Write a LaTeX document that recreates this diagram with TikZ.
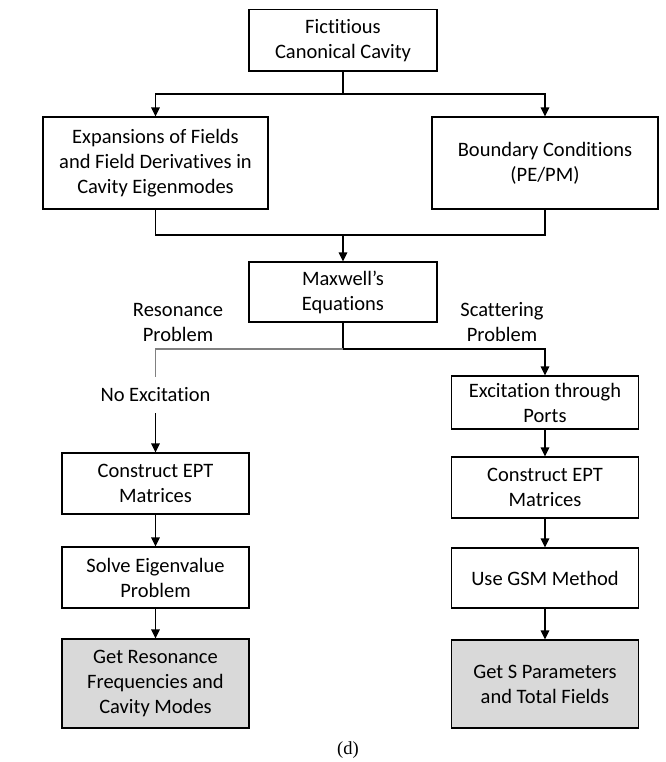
\documentclass[tikz,border=0pt]{standalone}
\usepackage{fontspec}
\setmainfont[Ligatures={NoCommon,NoContextual},RawFeature={-liga;-clig;-calt;-dlig}]{Carlito}
\newfontfamily\capfont{Liberation Serif}
\usetikzlibrary{arrows.meta}
\definecolor{boxgray}{HTML}{D9D9D9}
\definecolor{linegray}{HTML}{808080}
\begin{document}
\begin{tikzpicture}[x=1pt,y=-1pt,
  txt/.style={font=\fontsize{20.5}{25}\selectfont},
  box/.style={txt,draw=black,line width=1.3pt,inner sep=0pt,align=center},
  result/.style={box,fill=boxgray},
  lbl/.style={txt,inner sep=0pt,align=center},
  conn/.style={line width=1.5pt},
  arr/.style={conn,-{Triangle[length=9pt,width=8.5pt]}},
  grayconn/.style={line width=1.2pt,draw=linegray}]
\useasboundingbox (0,0) rectangle (665,762);

% top part
\node[box,minimum width=188pt,minimum height=61.5pt] (top) at (343,40.25) {Fictitious\\Canonical Cavity};
\node[box,minimum width=225pt,minimum height=92pt] (exp) at (155.5,163) {Expansions of Fields\\and Field Derivatives in\\Cavity Eigenmodes};
\node[box,minimum width=226pt,minimum height=92pt] (bc) at (545,163) {Boundary Conditions\\(PE/PM)};
\node[box,minimum width=188pt,minimum height=60pt] (max) at (343,292) {Maxwell’s\\Equations};

\node[lbl] (res) at (178,322.5) {Resonance\\Problem};
\node[lbl] (sca) at (502,322.5) {Scattering\\Problem};

% left branch
\node[lbl,inner ysep=11pt] (ne) at (155.5,395) {No Excitation};
\node[box,minimum width=187pt,minimum height=61pt] (lc) at (155.5,483.5) {Construct EPT\\Matrices};
\node[box,minimum width=187pt,minimum height=61pt] (ls) at (155.5,577.5) {Solve Eigenvalue\\Problem};
\node[result,minimum width=187pt,minimum height=89pt] (lg) at (155.5,683.5) {Get Resonance\\Frequencies and\\Cavity Modes};

% right branch
\node[box,minimum width=187pt,minimum height=53pt] (re) at (545,402.5) {Excitation through\\Ports};
\node[box,minimum width=187pt,minimum height=61pt] (rc) at (545,487.5) {Construct EPT\\Matrices};
\node[box,minimum width=187pt,minimum height=60pt] (rg) at (545,578) {Use GSM Method};
\node[result,minimum width=187pt,minimum height=88pt] (rs) at (545,684) {Get S Parameters\\and Total Fields};

\node[inner sep=0pt,font=\capfont\fontsize{18.5}{21}\selectfont] (cap) at (348,750) {(d)};

% connectors
\coordinate (j1) at (343,94);
\coordinate (j2) at (343,235);
\coordinate (j3) at (343,349);
\draw[conn] (top.south) -- (j1);
\draw[arr] (j1) -| (exp.north);
\draw[arr] (j1) -| (bc.north);
\draw[conn] (exp.south) |- (j2) -| (bc.south);
\draw[arr] (j2) -- (max.north);
\draw[conn] (max.south) -- (j3);
\draw[arr] (j3) -| (re.north);
\draw[grayconn] (j3) -| (ne.north);
\draw[arr] (ne.south) -- (lc.north);
\draw[arr] (lc.south) -- (ls.north);
\draw[arr] (ls.south) -- (lg.north);
\draw[arr] (re.south) -- (rc.north);
\draw[arr] (rc.south) -- (rg.north);
\draw[arr] (rg.south) -- (rs.north);
\end{tikzpicture}
\end{document}
